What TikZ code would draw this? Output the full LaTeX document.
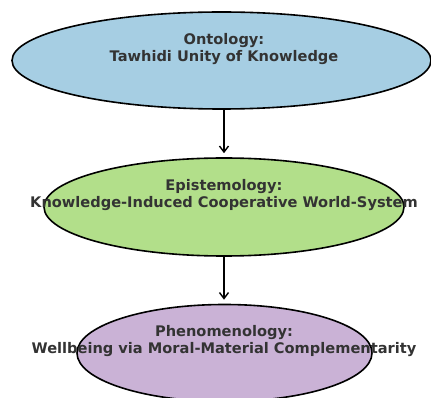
\documentclass[tikz,border=0pt]{standalone}
\usepackage{fontspec}
\setmainfont{DejaVu Sans}
\usetikzlibrary{shapes.geometric,arrows.meta}
\definecolor{ontoblue}{HTML}{A6CEE3}
\definecolor{epigreen}{HTML}{B2DF8A}
\definecolor{phenpurple}{HTML}{CAB2D6}
\definecolor{labelgray}{HTML}{333333}
\tikzset{
  layer/.style={ellipse, draw=black, line width=1.6pt, inner sep=0pt},
  layertext/.style={align=center, text=labelgray, font=\bfseries\fontsize{14.6}{16.5}\selectfont, inner sep=0pt},
  flow/.style={line width=1.4pt, -{Straight Barb[length=6pt,width=9pt,line width=1.4pt]}}
}
\begin{document}
\begin{tikzpicture}[x=1pt,y=-1pt]
  \useasboundingbox (0,0) rectangle (431,398);
  \clip (0,0) rectangle (431,398);
  \fill[white] (0,0) rectangle (431,398);

  % three stacked layers
  \node[layer, fill=ontoblue, minimum width=419pt, minimum height=97pt] (onto) at (221.5,60.5) {};
  \node[layer, fill=epigreen, minimum width=360pt, minimum height=98pt] (epi) at (224,207) {};
  \node[layer, fill=phenpurple, minimum width=295pt, minimum height=97pt] (phen) at (224.5,353) {};

  % labels sit a little above each centre
  \node[layertext] (ontoT) at (224,49) {Ontology:\\Tawhidi Unity of Knowledge};
  \node[layertext] (epiT) at (224,195) {Epistemology:\\Knowledge-Induced Cooperative World-System};
  \node[layertext] (phenT) at (224,341) {Phenomenology:\\Wellbeing via Moral-Material Complementarity};

  % downward flow
  \draw[flow] (onto.south -| 224,0) -- ([yshift=4pt]epi.north -| 224,0);
  \draw[flow] (epi.south -| 224,0) -- ([yshift=4pt]phen.north -| 224,0);
\end{tikzpicture}
\end{document}
